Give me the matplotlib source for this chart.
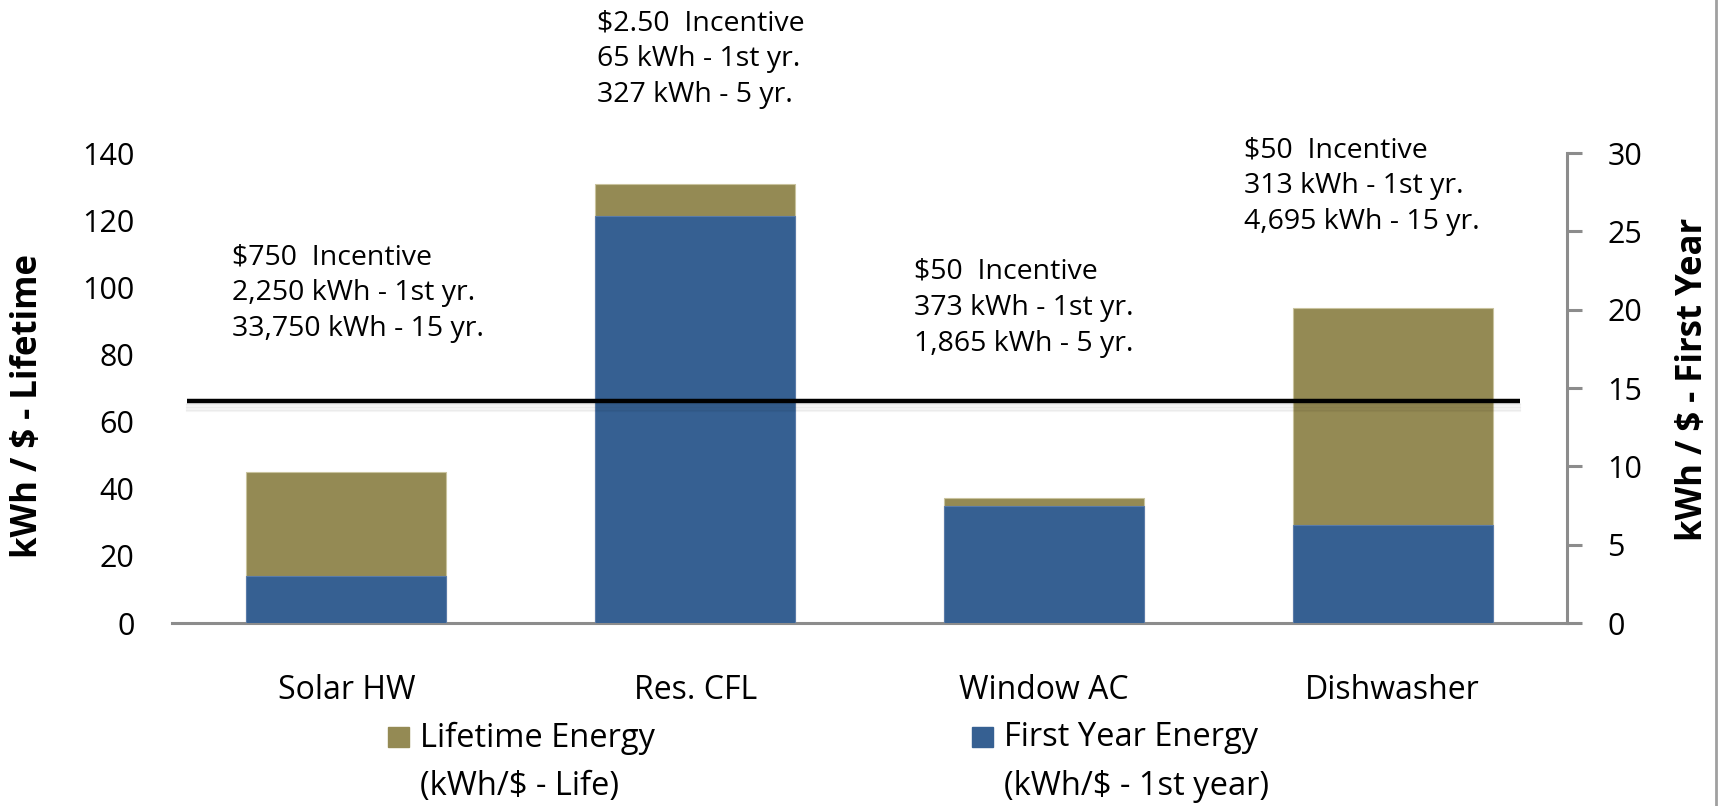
import matplotlib
matplotlib.use('Agg')
import matplotlib.pyplot as plt
import matplotlib.transforms as mtransforms
from matplotlib.patches import Rectangle
from matplotlib.lines import Line2D

plt.rcParams['font.family'] = ['Open Sans', 'DejaVu Sans']

# 数据
categories = ['Solar HW', 'Res. CFL', 'Window AC', 'Dishwasher']
lifetime = [45.0, 130.8, 37.3, 93.9]      # kWh/$ - Life (左轴)
first_year = [3.0, 26.0, 7.46, 6.26]      # kWh/$ - 1st year (右轴)
ref_line = 66.2                            # 水平参考线 (左轴)

notes = [
    ['$750  Incentive', '2,250 kWh - 1st yr.', '33,750 kWh - 15 yr.'],
    ['$2.50  Incentive', '65 kWh - 1st yr.', '327 kWh - 5 yr.'],
    ['$50  Incentive', '373 kWh - 1st yr.', '1,865 kWh - 5 yr.'],
    ['$50  Incentive', '313 kWh - 1st yr.', '4,695 kWh - 15 yr.'],
]
note_x = [-0.328, 0.719, 1.628, 2.574]
note_y = [109.0, 178.7, 104.6, 140.9]

olive = '#948A54'
blue = '#366092'
gray = '#8C8C8C'

fig = plt.figure(figsize=(17.21, 8.06), dpi=100)
ax = fig.add_axes([0.09994, 0.2270, 0.8106, 0.5831])
ax2 = ax.twinx()

x = list(range(len(categories)))
ax.bar(x, lifetime, width=0.573, color=olive, edgecolor='#C9C39E', linewidth=0.8, zorder=2)
ax2.bar(x, first_year, width=0.573, color=blue, edgecolor='#5A7BA8', linewidth=0.8, zorder=3)

ax.set_xlim(-0.5, 3.5)
ax.set_ylim(0, 140)
ax2.set_ylim(0, 30)
ax.set_yticks(range(0, 141, 20))
ax2.set_yticks(range(0, 31, 5))

# 水平线（带阴影），画在右轴之上
x0, x1 = -0.457, 3.365
for k in range(6):
    off = mtransforms.ScaledTranslation(0.004, -(0.03 + k * 0.015), fig.dpi_scale_trans)
    ax2.add_line(Line2D([x0, x1], [ref_line, ref_line], color='black', lw=1.6, alpha=0.04,
                        transform=ax.transData + off, zorder=6))
ax2.add_line(Line2D([x0, x1], [ref_line, ref_line], color='black', lw=3.2,
                    transform=ax.transData, zorder=7, solid_capstyle='butt'))

# 坐标轴样式
for s in ['top', 'left', 'right']:
    ax.spines[s].set_visible(False)
ax.spines['bottom'].set_color(gray)
ax.spines['bottom'].set_linewidth(2.2)
for s in ['top', 'left', 'bottom']:
    ax2.spines[s].set_visible(False)
ax2.spines['right'].set_color(gray)
ax2.spines['right'].set_linewidth(2.2)

ax.set_xticks(x)
ax.set_xticklabels(categories, fontsize=23)
ax.tick_params(axis='x', length=0, pad=37)
ax.tick_params(axis='y', length=0, pad=27, labelsize=22)
ax2.tick_params(axis='y', direction='out', length=11, width=2.2, color=gray, pad=18, labelsize=22)

# 轴标题
fig.text(0.0163, 0.496, 'kWh / $ - Lifetime', rotation=90, ha='center', va='center',
         fontsize=25, fontweight='bold')
fig.text(0.9837, 0.529, 'kWh / $ - First Year', rotation=90, ha='center', va='center',
         fontsize=25, fontweight='bold')

# 注释文字
for lines, nx, ny in zip(notes, note_x, note_y):
    for i, t in enumerate(lines):
        ax.annotate(t, xy=(nx, ny), xytext=(0, -i * 25.8), textcoords='offset points',
                    ha='left', va='center', fontsize=20.5, annotation_clip=False)

# 图例（手动）
leg = [(0.2313, 'Lifetime Energy', '(kWh/$ - Life)', olive),
       (0.5707, 'First Year Energy', '(kWh/$ - 1st year)', blue)]
for lx, l1, l2, c in leg:
    fig.add_artist(Rectangle((lx - 0.0061, 0.0856 - 0.0130), 0.0122, 0.0260,
                             transform=fig.transFigure, color=c))
    fig.text(lx + 0.0128, 0.0844, l1, fontsize=23.5, va='center', ha='left')
    fig.text(lx + 0.0128, 0.0240, l2, fontsize=23.5, va='center', ha='left')

# 右侧边框
fig.add_artist(Line2D([0.9971, 0.9971], [0, 1], transform=fig.transFigure, color='#A0A0A0', lw=2))

plt.savefig('out.png', dpi=100)
